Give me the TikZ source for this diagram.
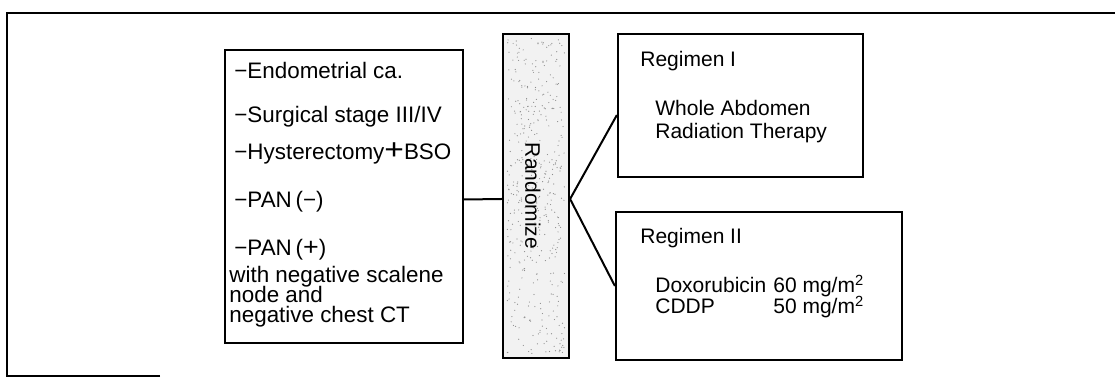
\documentclass[tikz,border=0pt]{standalone}
\usepackage{fontspec}
\setmainfont{Liberation Sans}
\usepackage{tikz}
\usetikzlibrary{positioning, calc}

\begin{document}
\begin{tikzpicture}[x=0.5pt, y=-0.5pt, font=\fontsize{10.5}{12}\selectfont,
		box/.style={draw, line width=1.1pt, inner sep=0pt},
		txt/.style={anchor=base west, inner sep=0pt},
		crittxt/.style={txt, font=\fontsize{11.2}{13}\selectfont},
		link/.style={line width=1pt}]
	\useasboundingbox (0,0) rectangle (1115,378);
	\draw[line width=0.9pt] (160,376) -- (7,376) -- (7,13) -- (1115,13);
	\node[box, minimum width=119pt, minimum height=146.5pt] (crit) at (344,196.5) {};
	\node[box, fill=black!5, minimum width=33pt, minimum height=162pt] (rand) at (536,196) {};
	\node[box, minimum width=122.5pt, minimum height=71.5pt] (reg1) at (740.5,105.5) {};
	\node[box, minimum width=143pt, minimum height=74pt] (reg2) at (759,286) {};
	\pgfmathsetseed{11}
	\foreach \k in {1,...,420}
		\fill[black!45] ({507+58*rnd},{38+316*rnd}) circle (0.3pt);
	\node[rotate=-90, inner sep=0pt] (randtxt) at ([xshift=-1.5pt]rand.center) {Randomize};
	\foreach \t/\xx/\yy [count=\i] in {{−Endometrial ca.}/234/79, {−Surgical stage III/IV}/234/123,
			{−Hysterectomy\scalebox{1.5}[1.3]{+}BSO}/234/160, {−PAN\,(−)}/234/208, {−PAN\,(\scalebox{1.2}[1.1]{+})}/234/256,
			{with negative scalene}/229/283, {node and}/229/303, {negative chest CT}/229/323}
		\node[crittxt] (crit\i) at (\xx,\yy) {\t};
	\node[txt] (reg1title) at (640,67) {Regimen I};
	\node[txt] (reg1a) at (655,116) {Whole Abdomen};
	\node[txt] (reg1b) at (655,139) {Radiation Therapy};
	\node[txt] (reg2title) at (640,244) {Regimen II};
	\node[txt] (dox) at (655,293) {Doxorubicin};
	\node[txt] (doxdose) at (773,293) {60 mg/m\textsuperscript{2}};
	\node[txt] (cddp) at (655,314) {CDDP};
	\node[txt] (cddpdose) at (773,314) {50 mg/m\textsuperscript{2}};
	\draw[link] ([yshift=-1.5pt]crit.east) -- ([yshift=-1.5pt]rand.west);
	\draw[link] ([yshift=-4.75pt]reg1.west) -- ([yshift=-1.5pt]rand.east) -- (reg2.west);
\end{tikzpicture}
\end{document}
